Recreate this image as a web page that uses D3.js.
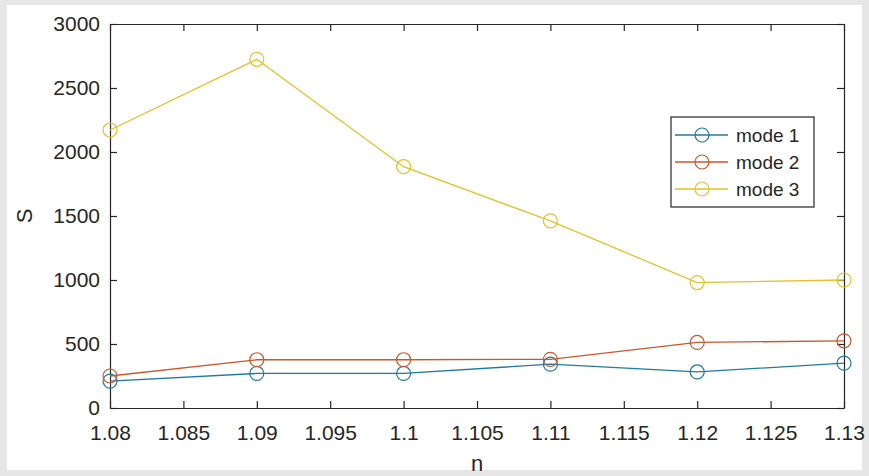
<!DOCTYPE html>
<html>
<head>
<meta charset="utf-8">
<script src="https://cdn.jsdelivr.net/npm/d3@7"></script>
<style>
  html, body { margin: 0; padding: 0; background: #e6e6e6; }
  svg { display: block; }
  text { font-family: "Liberation Sans", Arial, Helvetica, sans-serif; fill: #262626; }
</style>
</head>
<body>
<script>
// ---- data ----
const nValues = [1.08, 1.09, 1.1, 1.11, 1.12, 1.13];
const mode1 = [210, 270, 270, 342, 282, 350];
const mode2 = [250, 377, 377, 380, 512, 525];
const mode3 = [2172, 2724, 1885, 1462, 980, 1000];
const seriesNames = ["mode 1", "mode 2", "mode 3"];
const xTicks = [1.08, 1.085, 1.09, 1.095, 1.1, 1.105, 1.11, 1.115, 1.12, 1.125, 1.13];
const yTicks = [0, 500, 1000, 1500, 2000, 2500, 3000];
const colors = ["#1f7aa3", "#c9582a", "#e3c12a"];

const W = 869, H = 476;
const L = 110, R = 844, T = 24, B = 408;

const svg = d3.select("body").append("svg").attr("width", W).attr("height", H);

// outer frame
svg.append("rect").attr("x", 0).attr("y", 0).attr("width", W).attr("height", H).attr("fill", "#e6e6e6");
svg.append("rect").attr("x", 7).attr("y", 5).attr("width", 855).attr("height", 465).attr("fill", "#ffffff");

const x = d3.scaleLinear().domain([1.08, 1.13]).range([L, R]);
const y = d3.scaleLinear().domain([0, 3000]).range([B, T]);

const fmt = d => String(+d.toFixed(3));

// bottom axis
const gx = svg.append("g").attr("transform", `translate(0,${B})`)
  .call(d3.axisBottom(x).tickValues(xTicks).tickFormat(fmt).tickSizeInner(-7).tickSizeOuter(0).tickPadding(17));
// left axis
const gy = svg.append("g").attr("transform", `translate(${L},0)`)
  .call(d3.axisLeft(y).tickValues(yTicks).tickFormat(d3.format("d")).tickSizeInner(-7).tickSizeOuter(0).tickPadding(10));
// top axis
const gt = svg.append("g").attr("transform", `translate(0,${T})`)
  .call(d3.axisTop(x).tickValues(xTicks).tickFormat("").tickSizeInner(-7).tickSizeOuter(0));
// right axis
const gr = svg.append("g").attr("transform", `translate(${R},0)`)
  .call(d3.axisRight(y).tickValues(yTicks).tickFormat("").tickSizeInner(-7).tickSizeOuter(0));

[gx, gy, gt, gr].forEach(g => {
  g.select(".domain").attr("stroke", "#262626").attr("stroke-width", 1.2);
  g.selectAll(".tick line").attr("stroke", "#262626").attr("stroke-width", 1.2);
  g.selectAll("text").attr("font-size", 21).attr("fill", "#262626")
    .attr("font-family", "'Liberation Sans', Arial, sans-serif");
});
gx.selectAll("text").attr("dy", "0.71em");

// axis labels
svg.append("text").attr("x", (L + R) / 2).attr("y", 471).attr("text-anchor", "middle")
  .attr("font-size", 22).text("n");
svg.append("text").attr("transform", `translate(32,${(T + B) / 2}) rotate(-90)`)
  .attr("text-anchor", "middle").attr("font-size", 22).text("S");

// series
const allSeries = [mode1, mode2, mode3];
const line = d3.line().x((d, i) => x(nValues[i])).y(d => y(d));
allSeries.forEach((s, k) => {
  svg.append("path").datum(s).attr("d", line).attr("fill", "none")
    .attr("stroke", colors[k]).attr("stroke-width", 1.3);
  svg.selectAll(null).data(s).enter().append("circle")
    .attr("cx", (d, i) => x(nValues[i])).attr("cy", d => y(d)).attr("r", 7)
    .attr("fill", "none").attr("stroke", colors[k]).attr("stroke-width", 1.2);
});

// legend
const lg = svg.append("g");
lg.append("rect").attr("x", 671).attr("y", 117).attr("width", 143).attr("height", 90)
  .attr("fill", "#fff").attr("stroke", "#262626").attr("stroke-width", 1.2);
const ly = [135, 162, 189];
seriesNames.forEach((name, k) => {
  lg.append("line").attr("x1", 675).attr("x2", 728).attr("y1", ly[k]).attr("y2", ly[k])
    .attr("stroke", colors[k]).attr("stroke-width", 1.3);
  lg.append("circle").attr("cx", 702).attr("cy", ly[k]).attr("r", 7)
    .attr("fill", "none").attr("stroke", colors[k]).attr("stroke-width", 1.2);
  lg.append("text").attr("x", 736).attr("y", ly[k]).attr("dy", "0.35em")
    .attr("font-size", 19).text(name);
});
</script>
</body>
</html>
